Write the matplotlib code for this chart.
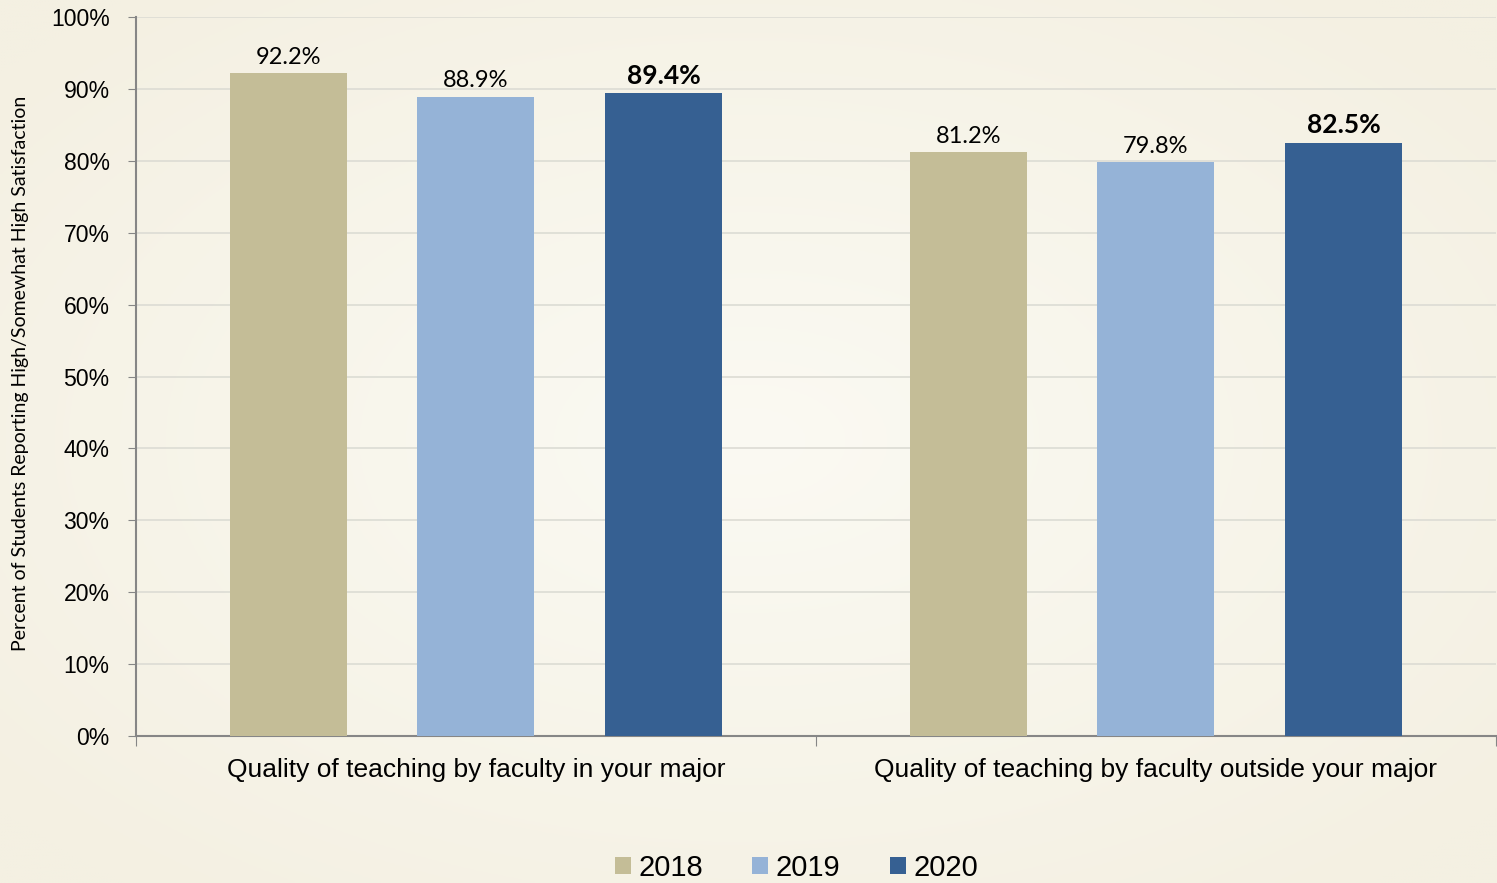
import matplotlib.pyplot as plt
import numpy as np

categories = ['Quality of teaching by faculty in your major',
              'Quality of teaching by faculty outside your major']
years = ['2018', '2019', '2020']
vals_2018 = [92.2, 81.2]
vals_2019 = [88.9, 79.8]
vals_2020 = [89.4, 82.5]
colors = ['#c4bd97', '#95b3d7', '#366092']

fig = plt.figure(figsize=(14.97, 8.83), dpi=100)

# radial cream background, lighter toward the middle
bg = fig.add_axes([0, 0, 1, 1], zorder=-10)
yy, xx = np.mgrid[-1:1:300j, -1:1:500j]
r = np.clip(np.sqrt(xx ** 2 + yy ** 2) / 1.3, 0, 1)
light = np.array([251, 250, 243]) / 255.0
dark = np.array([244, 240, 226]) / 255.0
img = light[None, None, :] * (1 - r[..., None]) + dark[None, None, :] * r[..., None]
bg.imshow(img, aspect='auto', extent=[0, 1, 0, 1])
bg.axis('off')

ax = fig.add_axes([0.0908, 0.1665, 0.9085, 0.8142])
ax.patch.set_alpha(0)

x = np.arange(len(categories))
w = 0.172
step = 0.2757
series = [vals_2018, vals_2019, vals_2020]
for i, (vals, yr) in enumerate(zip(series, years)):
    bars = ax.bar(x + (i - 1) * step, vals, w, color=colors[i], label=yr, zorder=3)
    for b, v in zip(bars, vals):
        ax.annotate('%.1f%%' % v, (b.get_x() + b.get_width() / 2, v),
                    xytext=(0, 4), textcoords='offset points', ha='center', va='bottom',
                    fontsize=19 if i == 2 else 17, family='Lato',
                    fontweight='bold' if i == 2 else 'normal', color='black')

ax.set_xlim(-0.5, 1.5)
ax.set_ylim(0, 100)
ax.set_yticks(range(0, 101, 10))
ax.set_yticklabels(['%d%%' % t for t in range(0, 101, 10)], family='Liberation Sans', fontsize=16.6)
ax.set_xticks([-0.5, 0.5, 1.5])
ax.set_xticklabels([])
ax.set_xticks(x, minor=True)
ax.set_xticklabels(categories, minor=True, family='Liberation Sans', fontsize=19)
ax.tick_params(axis='x', which='minor', length=0, pad=16)
ax.tick_params(axis='x', which='major', length=7, color='#868686')
ax.tick_params(axis='y', length=6, color='#868686', pad=13)
ax.grid(True, axis='y', color='#dcdcd4', linewidth=1.2, zorder=0)

for s in ['top', 'right']:
    ax.spines[s].set_visible(False)
for s in ['left', 'bottom']:
    ax.spines[s].set_color('#868686')
    ax.spines[s].set_linewidth(1.5)

fig.text(0.014, 0.5776, 'Percent of Students Reporting High/Somewhat High Satisfaction',
         rotation=90, ha='center', va='center', family='Lato', fontsize=14)

leg = fig.legend(loc='center', bbox_to_anchor=(0.532, 0.017), ncol=3, frameon=False,
                 prop={'family': 'Liberation Sans', 'size': 21},
                 handlelength=0.55, handleheight=0.55, handletextpad=0.25, columnspacing=1.7)

fig.savefig('out.png', dpi=100)
